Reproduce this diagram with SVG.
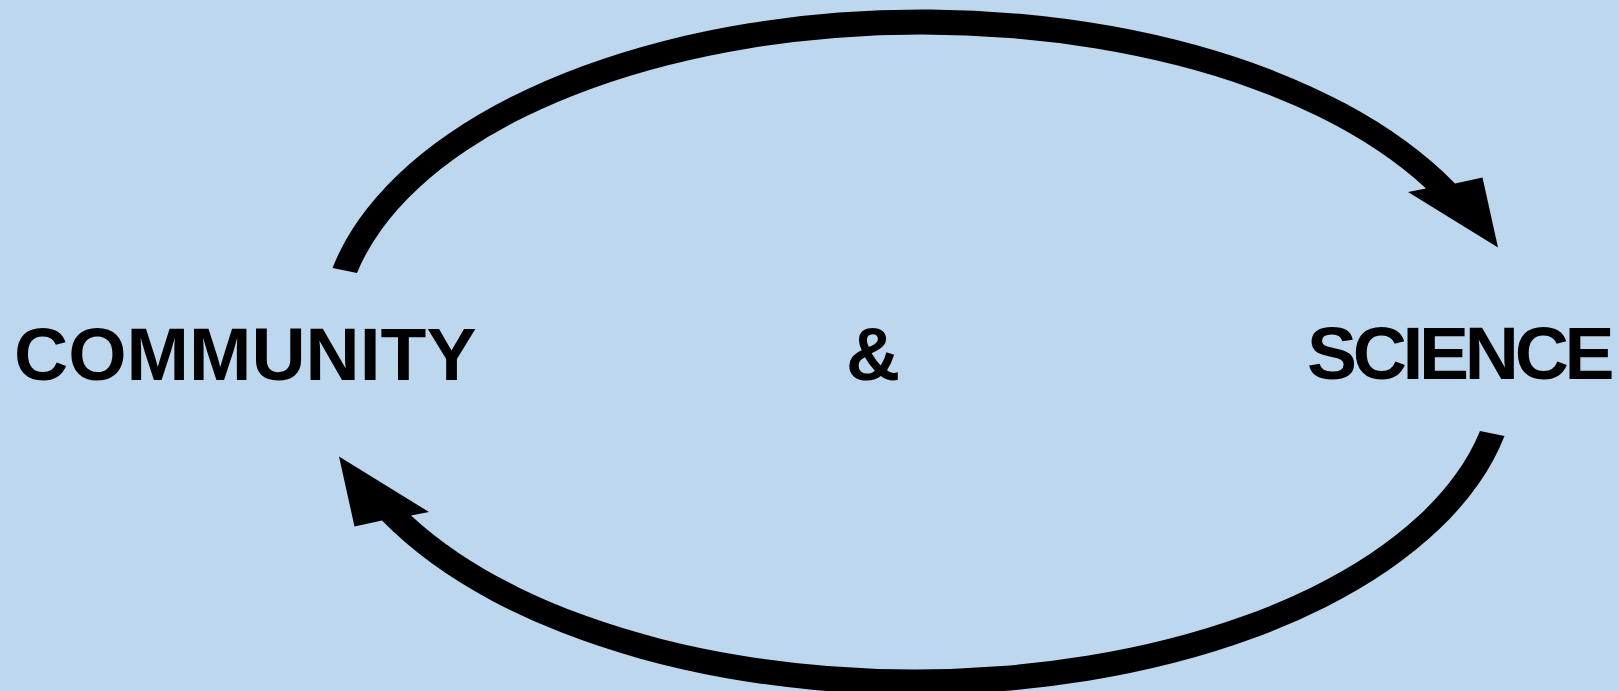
<svg xmlns="http://www.w3.org/2000/svg" width="1619" height="691" viewBox="0 0 1619 691">
  <style>
    .bg { fill: #BDD7EE; }
    .arrow { fill: #000000; stroke: none; }
    .label { font-family: "Liberation Sans", Arial, sans-serif; font-weight: bold; font-size: 75px; fill: #000000; }
  </style>
  <rect class="bg" x="0" y="0" width="1619" height="691"/>
  <g id="connectors">
    <path id="arrow-community-to-science" class="arrow" d="M 332.5 268.1 A 602.5 325.9 0 0 1 1455 183.4 L 1482.5 177.5 L 1498 247.5 L 1408 192 L 1426 188.5 A 577.5 300.9 0 0 0 357 273.1 Z"/>
    <path id="arrow-science-to-community" class="arrow" d="M 1504.5 435.9 A 602.5 325.9 0 0 1 382 520.6 L 354.5 526.5 L 339 456.5 L 429 512 L 411 515.5 A 577.5 300.9 0 0 0 1480 430.9 Z"/>
  </g>
  <g id="node-community">
    <text class="label" x="14" y="380">COMMUNITY</text>
  </g>
  <g id="node-and">
    <text class="label" x="846" y="380">&amp;</text>
  </g>
  <g id="node-science">
    <text class="label" x="1307" y="379" letter-spacing="-4.3">SCIENCE</text>
  </g>
</svg>
